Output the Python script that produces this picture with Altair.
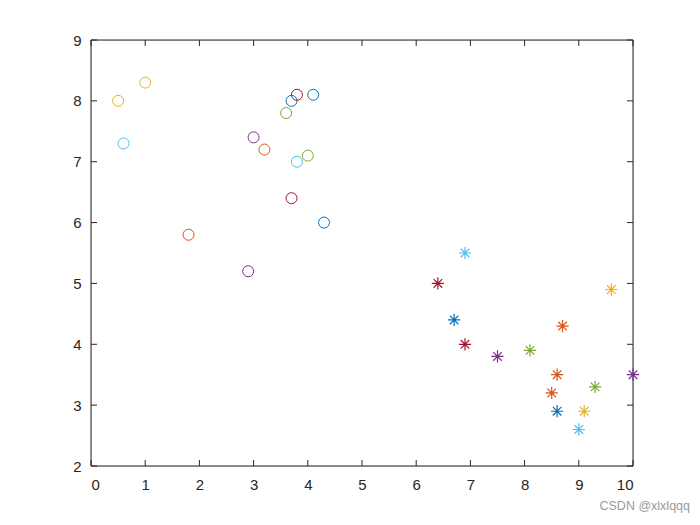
import altair as alt
import pandas as pd

# circles
cx = [0.5, 1.0, 0.6, 1.8, 2.9, 3.0, 3.2, 3.7, 3.7, 3.8, 3.6, 4.1, 3.8, 4.0, 4.3]
cy = [8.0, 8.3, 7.3, 5.8, 5.2, 7.4, 7.2, 6.4, 8.0, 8.1, 7.8, 8.1, 7.0, 7.1, 6.0]
ccol = ["#EDB120", "#EDB120", "#4DBEEE", "#D95319", "#7E2F8E", "#7E2F8E", "#D95319",
        "#A2142F", "#0072BD", "#A2142F", "#77AC30", "#0072BD", "#4DBEEE", "#77AC30", "#0072BD"]

# asterisks
ax_ = [6.4, 6.9, 6.7, 6.9, 7.5, 8.1, 8.7, 8.6, 8.5, 8.6, 9.1, 9.0, 9.3, 9.6, 10.0]
ay_ = [5.0, 5.5, 4.4, 4.0, 3.8, 3.9, 4.3, 3.5, 3.2, 2.9, 2.9, 2.6, 3.3, 4.9, 3.5]
acol = ["#A2142F", "#4DBEEE", "#0072BD", "#A2142F", "#7E2F8E", "#77AC30", "#D95319",
        "#D95319", "#D95319", "#0072BD", "#EDB120", "#4DBEEE", "#77AC30", "#EDB120", "#7E2F8E"]

xticks = list(range(0, 11))
yticks = list(range(2, 10))

W, H = 542, 426
TL = 6

circ_df = pd.DataFrame({"x": cx, "y": cy, "c": ccol})
ast_df = pd.DataFrame({"x": ax_, "y": ay_, "c": acol})
xt_df = pd.DataFrame({"x": xticks})
yt_df = pd.DataFrame({"y": yticks})

xs = alt.Scale(domain=[0, 10], nice=False, zero=False)
ys = alt.Scale(domain=[2, 9], nice=False, zero=False)

xaxis = alt.Axis(values=xticks, format="d", tickSize=0, grid=False, domain=False, labelFontSize=15,
                 labelColor="#262626", labelPadding=11, title=None, labelFont="Liberation Sans")
yaxis = alt.Axis(values=yticks, format="d", tickSize=0, grid=False, domain=False, labelFontSize=15,
                 labelColor="#262626", labelPadding=10, title=None, labelFont="Liberation Sans")

circles = alt.Chart(circ_df).mark_point(shape="circle", filled=False, size=121, strokeWidth=1, opacity=1).encode(
    x=alt.X("x:Q", scale=xs, axis=xaxis),
    y=alt.Y("y:Q", scale=ys, axis=yaxis),
    color=alt.Color("c:N", scale=None),
)

star = "M-1,0L1,0M0,-1L0,1M-0.7,-0.7L0.7,0.7M-0.7,0.7L0.7,-0.7"
asts = alt.Chart(ast_df).mark_point(shape=star, filled=False, size=150, strokeWidth=1.2, opacity=1).encode(
    x=alt.X("x:Q", scale=xs),
    y=alt.Y("y:Q", scale=ys),
    color=alt.Color("c:N", scale=None),
)

tick_style = dict(color="#262626", strokeWidth=1)
xb = alt.Chart(xt_df).mark_rule(**tick_style).encode(x=alt.X("x:Q", scale=xs), y=alt.value(H), y2=alt.value(H - TL))
xtp = alt.Chart(xt_df).mark_rule(**tick_style).encode(x=alt.X("x:Q", scale=xs), y=alt.value(0), y2=alt.value(TL))
yl = alt.Chart(yt_df).mark_rule(**tick_style).encode(y=alt.Y("y:Q", scale=ys), x=alt.value(0), x2=alt.value(TL))
yr = alt.Chart(yt_df).mark_rule(**tick_style).encode(y=alt.Y("y:Q", scale=ys), x=alt.value(W), x2=alt.value(W - TL))

frame = alt.Chart(pd.DataFrame({"a": [0]})).mark_rect(
    filled=False, fill=None, stroke="#262626", strokeWidth=1
).encode(x=alt.value(0), x2=alt.value(W), y=alt.value(0), y2=alt.value(H))

wm = alt.Chart(pd.DataFrame({"t": ["CSDN @xlxlqqq"]})).mark_text(
    align="right", baseline="middle", fontSize=12.5, color="#9a9a9a", font="Liberation Sans"
).encode(text="t:N", x=alt.value(599), y=alt.value(466))

chart = alt.layer(frame, xb, xtp, yl, yr, circles, asts, wm).properties(
    width=W, height=H,
    autosize=alt.AutoSizeParams(type="none"),
    padding={"left": 83, "top": 32, "right": 59, "bottom": 50},
).configure_view(stroke=None).configure(background="white")

chart.save("out.html", embed_options={"renderer": "svg", "actions": False})
